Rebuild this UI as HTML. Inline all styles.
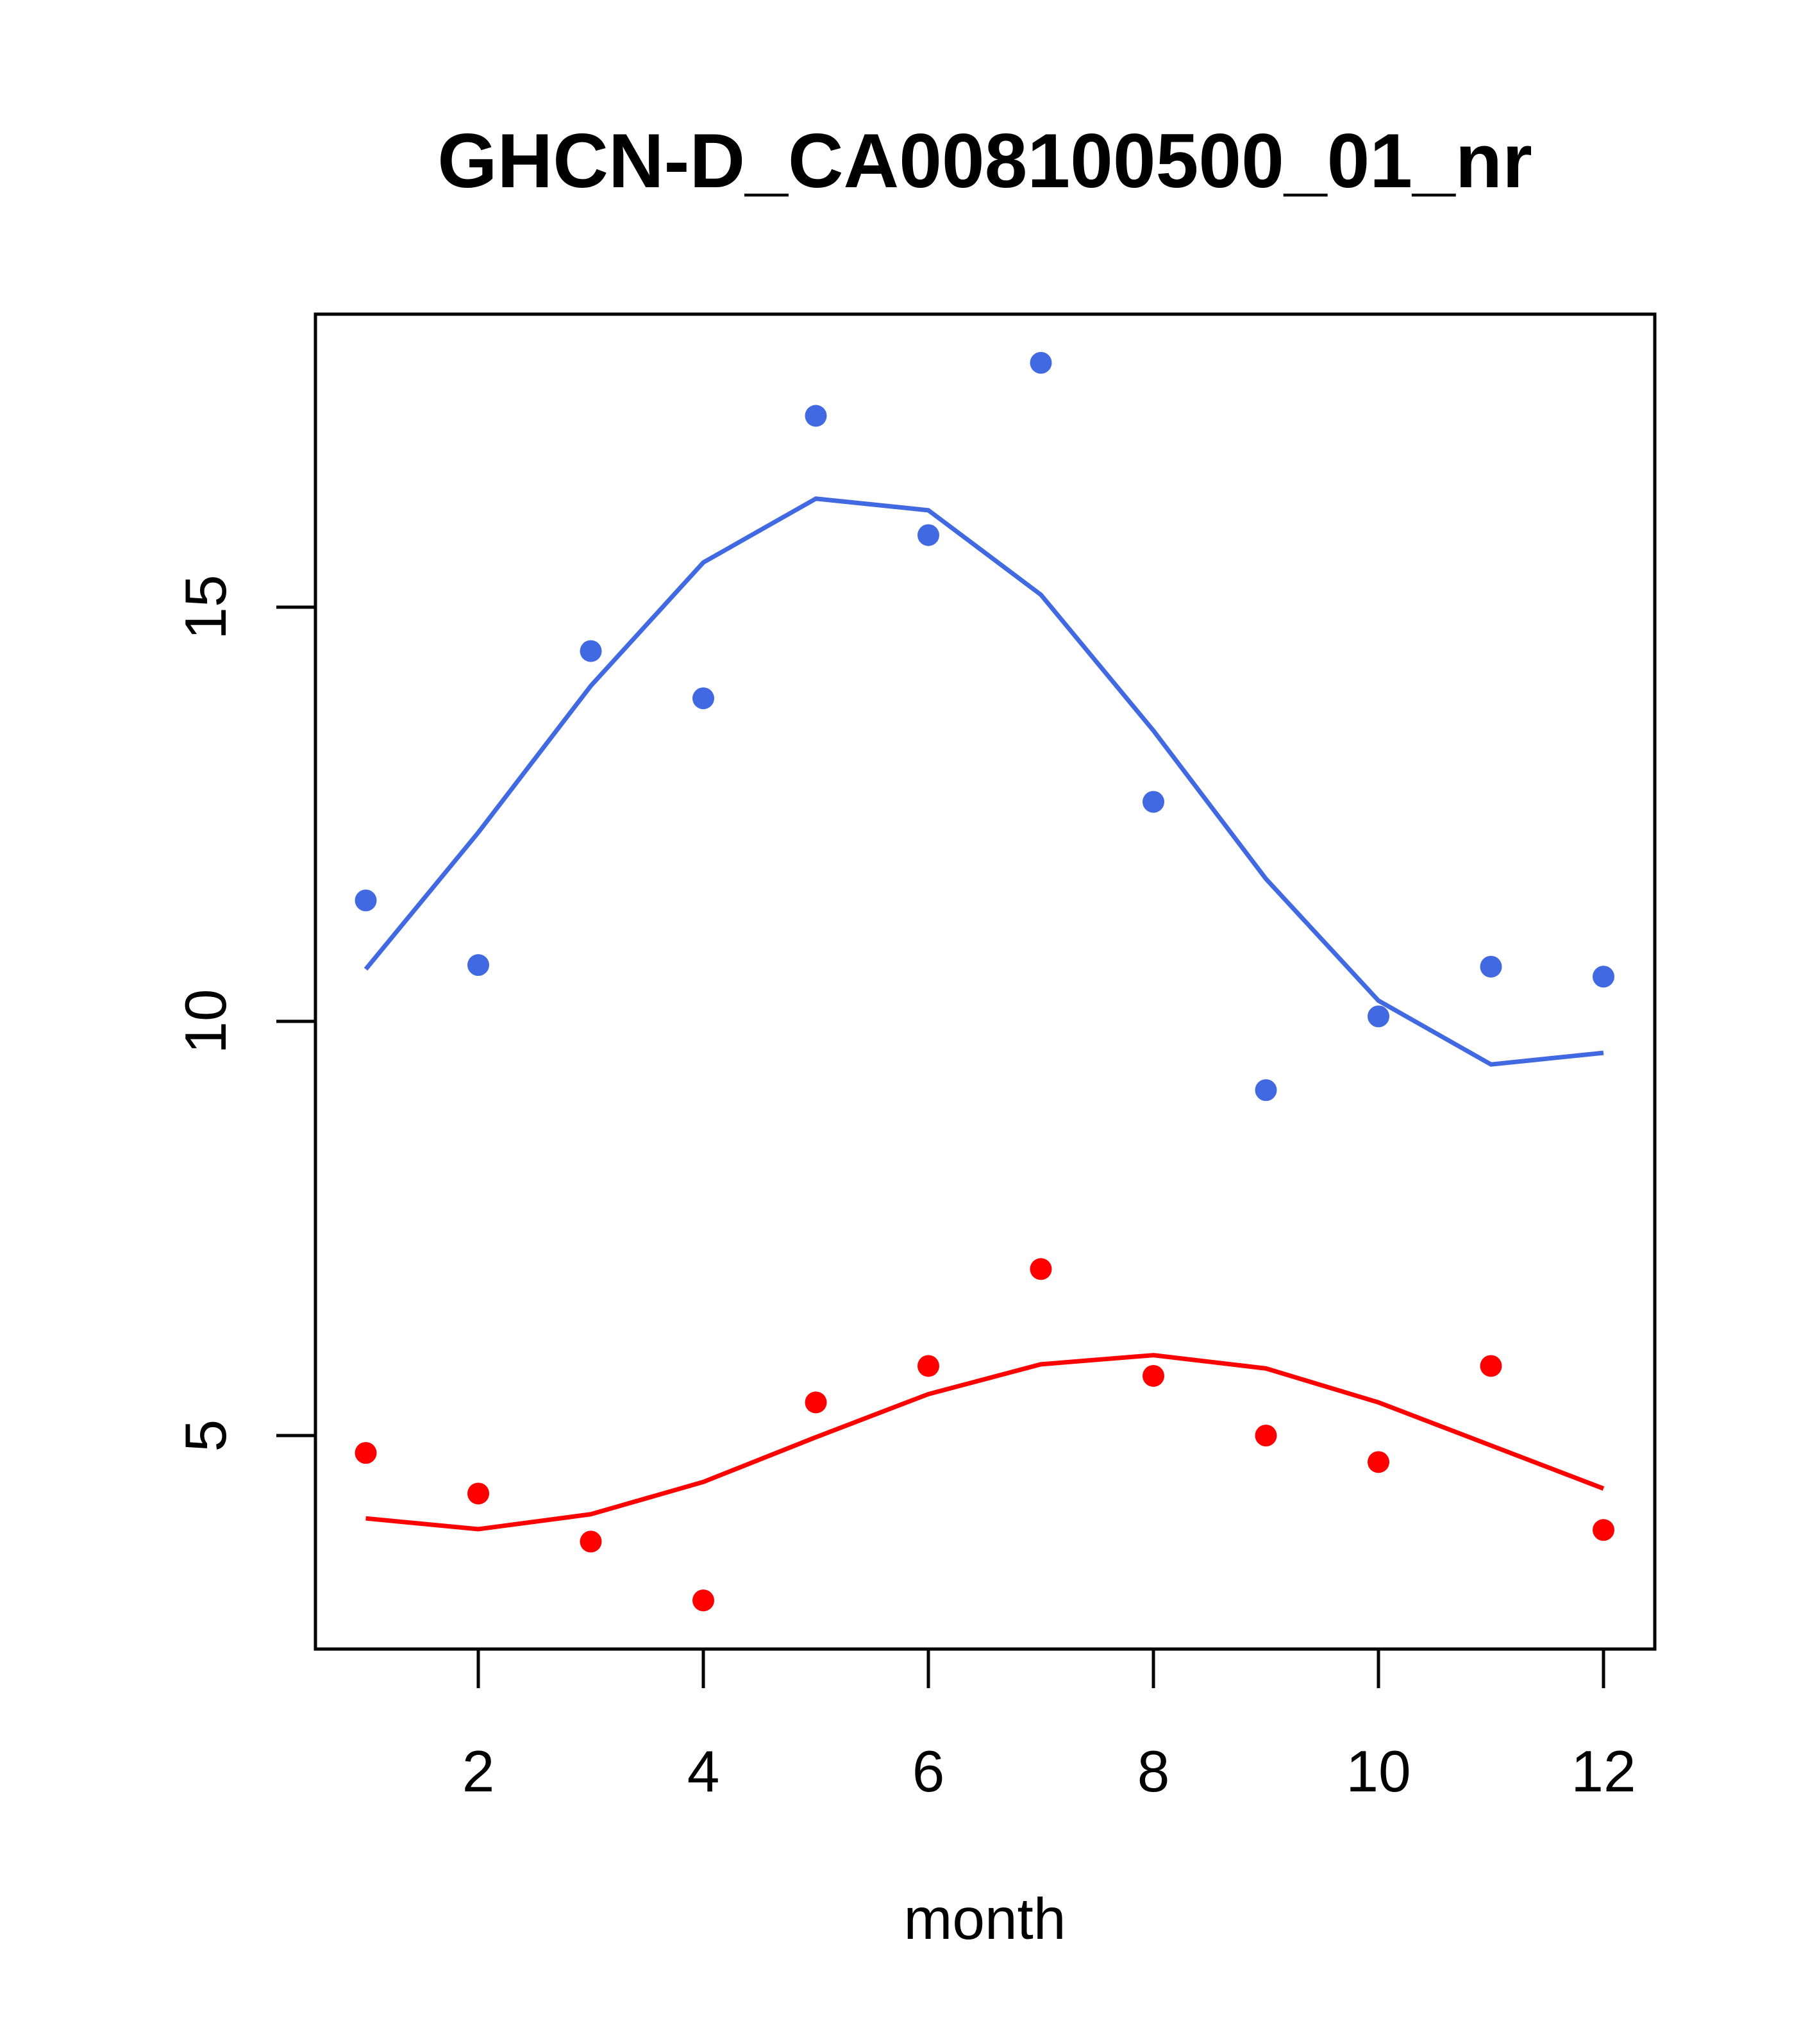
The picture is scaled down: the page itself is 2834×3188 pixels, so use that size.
<!DOCTYPE html>
<html><head><meta charset="utf-8"><style>html,body{margin:0;padding:0;background:#fff}svg{display:block}text{font-family:"Liberation Sans",sans-serif}</style></head>
<body>
<svg id="chart" width="2834" height="3188" viewBox="0 0 2834 3188" xmlns="http://www.w3.org/2000/svg">
<rect width="2834" height="3188" fill="#fff"/>
<text x="1536" y="292" font-size="120" font-weight="bold" text-anchor="middle">GHCN-D_CA008100500_01_nr</text>
<rect x="492" y="490" width="2089" height="2082" fill="none" stroke="#000" stroke-width="5"/>
<text x="1536" y="3024" font-size="91" text-anchor="middle">month</text>
<g id="axes"></g>
<g id="marks"></g>
</svg>
<script>
const months = [1,2,3,4,5,6,7,8,9,10,11,12];
const bluePoints = [11.46,10.68,14.47,13.9,17.31,15.87,17.95,12.65,9.17,10.06,10.66,10.54];
const blueLine = [10.63,12.28,14.05,15.54,16.31,16.17,15.15,13.51,11.72,10.25,9.48,9.62];
const redPoints = [4.79,4.30,3.72,3.01,5.40,5.84,7.01,5.72,5.0,4.68,5.84,3.86];
const redLine = [4.0,3.87,4.05,4.44,4.98,5.50,5.86,5.97,5.81,5.40,4.88,4.36];
const xTicks = [2,4,6,8,10,12];
const yTicks = [5,10,15];

const NS = "http://www.w3.org/2000/svg";
function xs(v){ return 746 + (v-2)*(2501-746)/10; }
function ys(v){ return 1593 - (v-10)*(1593-947)/5; }
function mk(tag, attrs, parent){ const e=document.createElementNS(NS,tag); for(const k in attrs) e.setAttribute(k,attrs[k]); parent.appendChild(e); return e; }
const axes=document.getElementById('axes'), marks=document.getElementById('marks');
const bottom=2572, left=492;
let ax=mk('line',{x1:xs(2),x2:xs(12),y1:bottom,y2:bottom,stroke:'#000','stroke-width':5},axes);


xTicks.forEach(t=>{
  const l=mk('line',{x1:xs(t),x2:xs(t),y1:bottom,y2:bottom+61,stroke:'#000','stroke-width':5},axes);
  
  
  const tx=mk('text',{x:xs(t),y:2794,'font-size':91,'text-anchor':'middle'},axes);
  tx.textContent=t;
  
  
});
let ay=mk('line',{x1:left,x2:left,y1:ys(5),y2:ys(15),stroke:'#000','stroke-width':5},axes);


yTicks.forEach(t=>{
  const l=mk('line',{x1:left,x2:left-61,y1:ys(t),y2:ys(t),stroke:'#000','stroke-width':5},axes);
  
  
  const tx=mk('text',{x:352,y:ys(t),'font-size':91,'text-anchor':'middle',transform:`rotate(-90 352 ${ys(t)})`},axes);
  tx.textContent=t;
  
  
});
function line(vals,color,name){
  const p=mk('polyline',{points:vals.map((v,i)=>xs(months[i])+','+ys(v)).join(' '),fill:'none',stroke:color,'stroke-width':7},marks);
  
  
}
function pts(vals,color,name){
  vals.forEach((v,i)=>{
    const c=mk('circle',{cx:xs(months[i]),cy:ys(v),r:17,fill:color},marks);
    
    
  });
}
line(blueLine,'#4169E1','blue-smooth-line');
line(redLine,'#FF0000','red-smooth-line');
pts(bluePoints,'#4169E1','blue-point');
pts(redPoints,'#FF0000','red-point');
</script>
</body></html>
